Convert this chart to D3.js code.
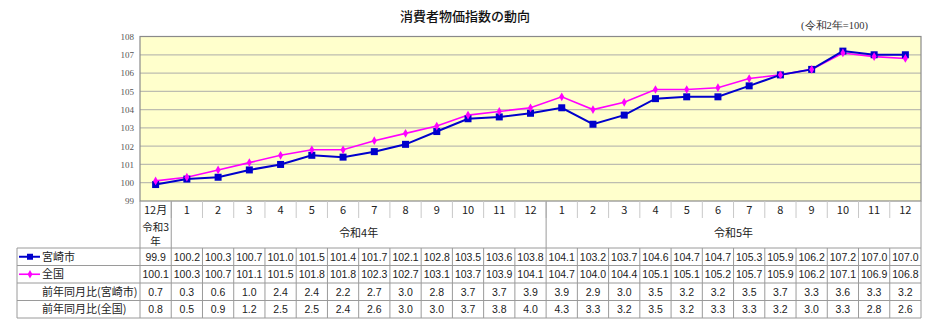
<!DOCTYPE html>
<html><head><meta charset="utf-8">
<script src="https://cdn.jsdelivr.net/npm/d3@7"></script>
<style>
body{margin:0;background:#fff;}
svg{display:block;}
</style></head>
<body>
<svg id="c" width="932" height="323"></svg>
<script>
const months = ["12月","1","2","3","4","5","6","7","8","9","10","11","12","1","2","3","4","5","6","7","8","9","10","11","12"];
const miyazaki = [99.9,100.2,100.3,100.7,101.0,101.5,101.4,101.7,102.1,102.8,103.5,103.6,103.8,104.1,103.2,103.7,104.6,104.7,104.7,105.3,105.9,106.2,107.2,107.0,107.0];
const national = [100.1,100.3,100.7,101.1,101.5,101.8,101.8,102.3,102.7,103.1,103.7,103.9,104.1,104.7,104.0,104.4,105.1,105.1,105.2,105.7,105.9,106.2,107.1,106.9,106.8];
const yoyMiyazaki = [0.7,0.3,0.6,1.0,2.4,2.4,2.2,2.7,3.0,2.8,3.7,3.7,3.9,3.9,2.9,3.0,3.5,3.2,3.2,3.5,3.7,3.3,3.6,3.3,3.2];
const yoyNational = [0.8,0.5,0.9,1.2,2.5,2.5,2.4,2.6,3.0,3.0,3.7,3.8,4.0,4.3,3.3,3.2,3.5,3.2,3.3,3.3,3.2,3.0,3.3,2.8,2.6];
const eras = [{label:"令和3年", from:0, to:0},{label:"令和4年", from:1, to:12},{label:"令和5年", from:13, to:24}];
const yTicks = [99,100,101,102,103,104,105,106,107,108];
const title = "消費者物価指数の動向";
const note = "(令和2年=100)";
const rowLabels = ["宮崎市","全国","前年同月比(宮崎市)","前年同月比(全国)"];

const svg = d3.select("#c");
const L = 140, R = 921, T = 36.5, B = 201;
const tableLeft = 17;
const sans = "'Noto Sans CJK JP','Liberation Sans',sans-serif";
const serif = "'Liberation Serif','DejaVu Serif',serif";

const x = d3.scaleBand().domain(d3.range(months.length)).range([L, R]).paddingInner(0).paddingOuter(0);
const y = d3.scaleLinear().domain([99,108]).range([B, T]);
const cx = i => x(i) + x.bandwidth()/2;

// title
svg.append("text").attr("x",465).attr("y",21).attr("text-anchor","middle")
  .attr("font-family",sans).attr("font-size",13).attr("font-weight",500).attr("fill","#111").text(title);
svg.append("text").attr("x",868).attr("y",29).attr("text-anchor","end")
  .attr("font-family",serif).attr("font-size",10.5).attr("fill","#333").text(note);

// plot bg
svg.append("rect").attr("x",L).attr("y",T).attr("width",R-L).attr("height",B-T).attr("fill","#ffffcc");

// gridlines
svg.append("g").selectAll("line").data(yTicks.slice(1,-1)).join("line")
  .attr("x1",L).attr("x2",R).attr("y1",d=>y(d)).attr("y2",d=>y(d))
  .attr("stroke","#bdbdb0").attr("stroke-width",1.3);

svg.append("rect").attr("x",L).attr("y",T).attr("width",R-L).attr("height",B-T)
  .attr("fill","none").attr("stroke","#8a8a8a").attr("stroke-width",1.2);

// y axis
const yAxis = svg.append("g").attr("transform",`translate(${L},0)`)
  .call(d3.axisLeft(y).tickValues(yTicks).tickSize(0).tickPadding(6));
yAxis.select(".domain").remove();
yAxis.selectAll("text").attr("font-family",serif).attr("font-size",9).attr("fill","#555");

// lines
const line = d3.line().x((d,i)=>cx(i)).y(d=>y(d));
svg.append("path").datum(national).attr("d",line).attr("fill","none").attr("stroke","#ff00ff").attr("stroke-width",1.6);
svg.append("path").datum(miyazaki).attr("d",line).attr("fill","none").attr("stroke","#0000cc").attr("stroke-width",2);
svg.append("g").selectAll("rect").data(miyazaki).join("rect")
  .attr("x",(d,i)=>cx(i)-3.5).attr("y",d=>y(d)-3.5).attr("width",7).attr("height",7).attr("fill","#0000cc");
svg.append("g").selectAll("path").data(national).join("path")
  .attr("d",d3.symbol(d3.symbolDiamond,22))
  .attr("transform",(d,i)=>`translate(${cx(i)},${y(d)})`).attr("fill","#ff00ff");

// table
const monthRowB = 218, eraRowB = 248;
const rowH = 17.5;
const rowsY = d3.range(5).map(k => eraRowB + k*rowH);
const g = svg.append("g").attr("font-family",sans);
const gridColor = "#9a9a9a";

// month labels
g.selectAll("text.m").data(months).join("text").attr("class","m")
  .attr("x",(d,i)=>cx(i)).attr("y",214).attr("text-anchor","middle")
  .attr("font-size",11).attr("fill","#222").text(d=>d);
// month separators (short)
g.selectAll("line.ms").data(d3.range(1,months.length)).join("line").attr("class","ms")
  .attr("x1",i=>x(i)).attr("x2",i=>x(i)).attr("y1",B).attr("y2",monthRowB)
  .attr("stroke","#c8c8c8").attr("stroke-width",1);
// era separators (full)
[1,13].forEach(i=>{
  g.append("line").attr("x1",x(i)).attr("x2",x(i)).attr("y1",B).attr("y2",eraRowB).attr("stroke",gridColor);
});
// era labels
const er0 = eras[0];
g.append("text").attr("x",cx(er0.from)).attr("y",230.5).attr("text-anchor","middle").attr("font-size",10.5).attr("fill","#222").text(er0.label.slice(0,3));
g.append("text").attr("x",cx(er0.from)).attr("y",245).attr("text-anchor","middle").attr("font-size",10.5).attr("fill","#222").text(er0.label.slice(3));
eras.slice(1).forEach(e=>{
  g.append("text").attr("x",(x(e.from)+x(e.to)+x.bandwidth())/2).attr("y",237)
    .attr("text-anchor","middle").attr("font-size",11).attr("fill","#222").text(e.label);
});
// header outer
g.append("line").attr("x1",R).attr("x2",R).attr("y1",B).attr("y2",rowsY[4]).attr("stroke",gridColor);
g.append("line").attr("x1",L).attr("x2",L).attr("y1",B).attr("y2",rowsY[4]).attr("stroke",gridColor);

// data rows
rowsY.forEach(yy=>{
  g.append("line").attr("x1",tableLeft).attr("x2",R).attr("y1",yy).attr("y2",yy).attr("stroke",gridColor);
});
g.append("line").attr("x1",tableLeft).attr("x2",tableLeft).attr("y1",rowsY[0]).attr("y2",rowsY[4]).attr("stroke",gridColor);
g.selectAll("line.dv").data(d3.range(1,months.length)).join("line").attr("class","dv")
  .attr("x1",i=>x(i)).attr("x2",i=>x(i)).attr("y1",rowsY[0]).attr("y2",rowsY[4]).attr("stroke",gridColor);

const series = [miyazaki, national, yoyMiyazaki, yoyNational];
series.forEach((s,k)=>{
  g.selectAll(null).data(s).join("text")
    .attr("x",(d,i)=>cx(i)).attr("y",rowsY[k]+rowH/2+4).attr("text-anchor","middle")
    .attr("font-family","'Liberation Sans',Arial,sans-serif").attr("font-size",10.5).attr("fill","#222")
    .text(d=>d.toFixed(1));
  g.append("text").attr("x",42).attr("y",rowsY[k]+rowH/2+4).attr("font-size",11).attr("fill","#222").text(rowLabels[k]);
});
// legend keys
const ly0 = rowsY[0]+rowH/2, ly1 = rowsY[1]+rowH/2;
g.append("line").attr("x1",19).attr("x2",40).attr("y1",ly0).attr("y2",ly0).attr("stroke","#0000cc").attr("stroke-width",2);
g.append("rect").attr("x",27).attr("y",ly0-3).attr("width",6).attr("height",6).attr("fill","#0000cc");
g.append("line").attr("x1",19).attr("x2",40).attr("y1",ly1).attr("y2",ly1).attr("stroke","#ff00ff").attr("stroke-width",1.6);
g.append("path").attr("d",d3.symbol(d3.symbolDiamond,20)).attr("transform",`translate(30,${ly1})`).attr("fill","#ff00ff");
</script>
</body></html>
